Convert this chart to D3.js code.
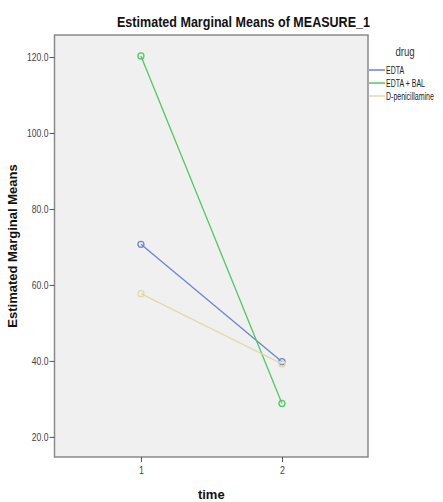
<!DOCTYPE html>
<html>
<head>
<meta charset="utf-8">
<script src="https://cdn.jsdelivr.net/npm/d3@7"></script>
<style>
    body { margin: 0; background: #fff; }
    #chart { width: 443px; height: 502px; }
    text { font-family: "Liberation Sans", Arial, sans-serif; }
</style>
</head>
<body>
<div id="chart"></div>
<script>
// 数据
const times = [1, 2];
const drugs = ["EDTA", "EDTA + BAL", "D-penicillamine"];
const edtaMeans = [70.7, 39.8];
const edtaBalMeans = [120.3, 28.8];
const dpenMeans = [57.7, 39.2];
const yTicks = [20, 40, 60, 80, 100, 120];

// 没有窄字体，用 textLength 把文字横向压缩
function squeeze(sel, ratio) {
    sel.each(function () {
        const len = this.getComputedTextLength();
        d3.select(this)
            .attr("textLength", len * ratio)
            .attr("lengthAdjust", "spacingAndGlyphs");
    });
}

document.addEventListener("DOMContentLoaded", function () {
    const container = d3.select("#chart");
    const width = 443, height = 502;
    const margin = { top: 35, right: 75, bottom: 45, left: 54.5 };
    const colors = ["#6f82cf", "#4fca5e", "#dedaa8"];
    const series = [edtaMeans, edtaBalMeans, dpenMeans].map((vals, i) => ({
        drug: drugs[i],
        color: colors[i],
        points: times.map((t, j) => ({ time: t, value: vals[j] }))
    }));

    const svg = container.append("svg")
        .attr("width", width)
        .attr("height", height);

    const x = d3.scaleLinear()
        .domain([0.387, 2.61])
        .range([margin.left, width - margin.right]);

    const y = d3.scaleLinear()
        .domain([14.7, 125.8])
        .range([height - margin.bottom, margin.top]);

    // 背景
    svg.append("rect")
        .attr("x", margin.left)
        .attr("y", margin.top)
        .attr("width", x.range()[1] - x.range()[0])
        .attr("height", y.range()[0] - y.range()[1])
        .attr("fill", "#f0f0f0")
        .attr("stroke", "#8a8a8a")
        .attr("stroke-width", 1.5);

    // 坐标轴
    const yAxis = svg.append("g")
        .attr("transform", `translate(${margin.left},0)`)
        .call(d3.axisLeft(y).tickValues(yTicks).tickSize(5).tickPadding(1).tickFormat(d3.format(".1f")));
    yAxis.select(".domain").remove();
    yAxis.selectAll("line").attr("stroke", "#555");
    yAxis.selectAll("text").attr("fill", "#444").style("font-size", "11px").attr("font-family", null)
        .call(squeeze, 0.78);

    const xAxis = svg.append("g")
        .attr("transform", `translate(0,${height - margin.bottom})`)
        .call(d3.axisBottom(x).tickValues(times).tickSize(5).tickPadding(4).tickFormat(d3.format("d")));
    xAxis.select(".domain").remove();
    xAxis.selectAll("line").attr("stroke", "#555");
    xAxis.selectAll("text").attr("fill", "#444").style("font-size", "11px").attr("font-family", null)
        .call(squeeze, 0.8);

    // 折线和点
    const line = d3.line().x(d => x(d.time)).y(d => y(d.value));
    const groups = svg.selectAll(".series")
        .data(series)
        .join("g")
        .attr("class", "series");

    groups.append("path")
        .attr("d", d => line(d.points))
        .attr("fill", "none")
        .attr("stroke", d => d.color)
        .attr("stroke-width", 1.3);

    groups.selectAll("circle")
        .data(d => d.points.map(p => ({ ...p, color: d.color })))
        .join("circle")
        .attr("cx", d => x(d.time))
        .attr("cy", d => y(d.value))
        .attr("r", 3)
        .attr("fill", "none")
        .attr("stroke", d => d.color)
        .attr("stroke-width", 1.3);

    // 标题
    svg.append("text")
        .attr("x", 243.5)
        .attr("y", 27)
        .attr("text-anchor", "middle")
        .style("font-size", "15px")
        .style("font-weight", "bold")
        .attr("fill", "#111")
        .attr("textLength", 253)
        .attr("lengthAdjust", "spacingAndGlyphs")
        .text("Estimated Marginal Means of MEASURE_1");

    svg.append("text")
        .attr("transform", `translate(17,${(y.range()[0] + y.range()[1]) / 2}) rotate(-90)`)
        .attr("text-anchor", "middle")
        .style("font-size", "13px")
        .style("font-weight", "bold")
        .attr("fill", "#111")
        .text("Estimated Marginal Means");

    svg.append("text")
        .attr("x", (x.range()[0] + x.range()[1]) / 2)
        .attr("y", 499)
        .attr("text-anchor", "middle")
        .style("font-size", "13px")
        .style("font-weight", "bold")
        .attr("fill", "#111")
        .text("time");

    // 图例
    const legend = svg.append("g");
    legend.append("text")
        .attr("x", 405)
        .attr("y", 56)
        .attr("text-anchor", "middle")
        .style("font-size", "12px")
        .attr("fill", "#333")
        .text("drug")
        .call(squeeze, 0.8);

    const items = legend.selectAll(".item")
        .data(series)
        .join("g")
        .attr("class", "item")
        .attr("transform", (d, i) => `translate(369,${70 + i * 13})`);
    items.append("line")
        .attr("x1", 0).attr("x2", 16)
        .attr("stroke", d => d.color)
        .attr("stroke-width", 1.5);
    // 用 scale 压缩图例文字，保证包围盒也跟着变窄
    items.append("text")
        .attr("transform", "translate(17,3.5) scale(0.7,1)")
        .style("font-size", "10px")
        .attr("fill", "#222")
        .text(d => d.drug);
});
</script>
</body>
</html>
